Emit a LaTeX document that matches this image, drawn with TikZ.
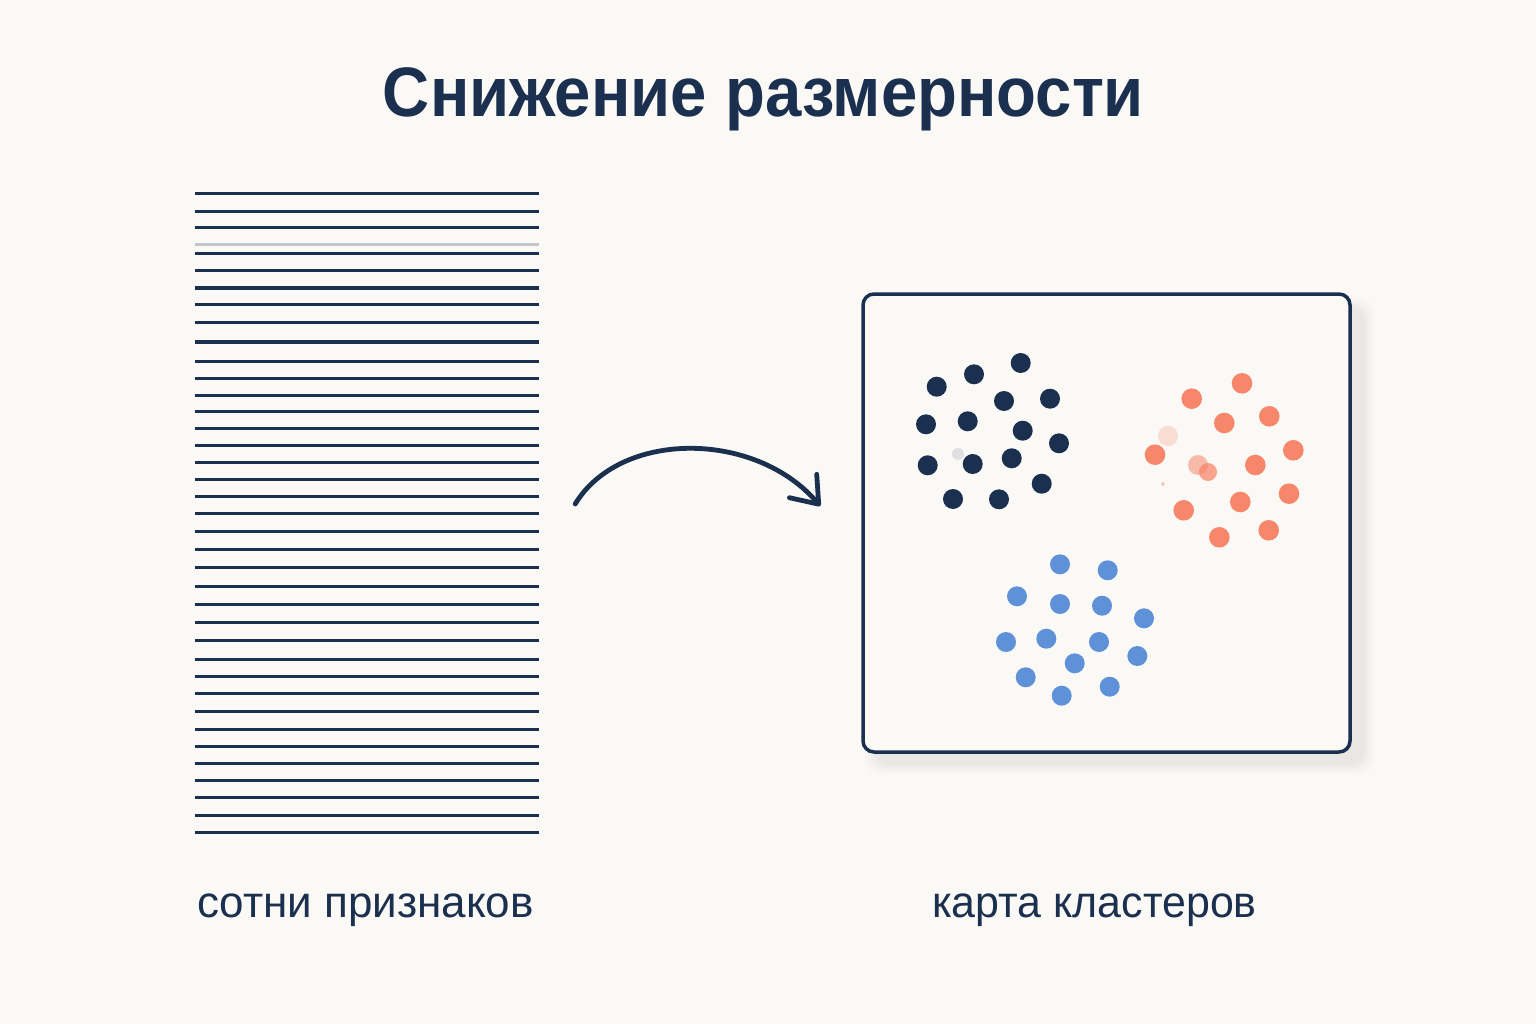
\documentclass[tikz,border=0pt]{standalone}
\usepackage{fontspec}
\setmainfont{Liberation Sans}
\usetikzlibrary{arrows.meta}
\definecolor{bg}{HTML}{FBF9F6}
\definecolor{navy}{HTML}{1B2F4E}
\definecolor{coral}{HTML}{F7876A}
\definecolor{skyb}{HTML}{5E91D8}
\tikzset{
  featline/.style={navy, line width=3pt},
  dotd/.style={fill=navy},
  dotc/.style={fill=coral},
  dotb/.style={fill=skyb},
  flow/.style={navy, line width=4.8pt, line cap=round, line join=round,
    -{Straight Barb[length=24pt,width=36pt,line cap=round,line join=round]}},
  caption/.style={anchor=base, text=navy, font=\fontsize{44}{50}\selectfont},
}
\begin{document}
\begin{tikzpicture}[x=1pt,y=-1pt]
\fill[bg] (0,0) rectangle (1536,1024);
\useasboundingbox (0,0) rectangle (1536,1024);

% title
\node[anchor=base, text=navy, font=\fontsize{70}{80}\selectfont\bfseries] (title) at (763.5,117) {\scalebox{0.932}[1]{Снижение размерности}};

% feature lines
\node[minimum width=344pt, minimum height=638pt, inner sep=0pt] (feat) at (367,513) {};
\foreach \y in {194,212,228,254,271,288,304,322,361,378,395,411,428,445,462,479,496,513,531,549,567,586,604,622,640,659,676,693,711,729,746,763,780,797,815,832}
  \draw[featline] (195,\y) -- (539,\y);
\draw[featline, opacity=0.25] (195,245) -- (539,245);
\draw[featline, line width=4pt] (195,342) -- (539,342);

% map box shadow
\foreach \s/\o in {10/0.012,7/0.015,4/0.02,1/0.025}
  \fill[black, opacity=\o, rounded corners=14pt] (875-\s,308-\s) rectangle (1364+\s,764+\s);
\node[draw=navy, fill=bg, line width=3.5pt, rounded corners=11pt, minimum width=487pt, minimum height=458pt, inner sep=0pt] (map) at (1106.5,523) {};

% dark cluster
\foreach \x/\y in {936.7/386.7,974/374.3,1020.7/363,1004/401,1050/398.7,926/424.3,967.7/421.3,1022.7/430.7,1059/443.3,927.7/465.3,972.7/464,1011.7/458.3,1041.7/483.7,953/499,999/499.3}
  \fill[dotd] (\x,\y) circle (10pt);
\fill[navy, opacity=0.12] (958,454) circle (6pt);

% coral cluster
\fill[coral, opacity=0.25] (1168,436) circle (10pt);
\foreach \x/\y in {1242/383.3,1191.7/398.7,1269.3/416.3,1224.3/423,1293.3/450.3,1155/454.7,1255.3/465,1289/493.7,1240.3/502,1183.7/510.3,1268.7/530.3,1219.3/537.3}
  \fill[dotc] (\x,\y) circle (10.3pt);
\fill[coral, opacity=0.55] (1198,465) circle (10pt);
\fill[coral, opacity=0.75] (1208,472) circle (9pt);
\fill[coral, opacity=0.4] (1163,484) circle (2pt);

% blue cluster
\foreach \x/\y in {1060/564.3,1107.7/570.3,1017/596.3,1060/604,1102/605.7,1144/618.3,1006/642,1046.3/638.7,1099/642,1137.3/656,1074.7/663.3,1025.7/677.3,1061.7/695.7,1109.7/686.7}
  \fill[dotb] (\x,\y) circle (10pt);

% arrow
\draw[flow] ([shift={(36,-9)}]feat.east) .. controls (620,430) and (755,430) .. ([shift={(-41,-17)}]map.west);

% captions
\node[caption] (capL) at (365.5,917) {сотни признаков};
\node[caption] (capR) at (1094.5,917) {\scalebox{0.975}[1]{карта кластеров}};
\end{tikzpicture}
\end{document}
